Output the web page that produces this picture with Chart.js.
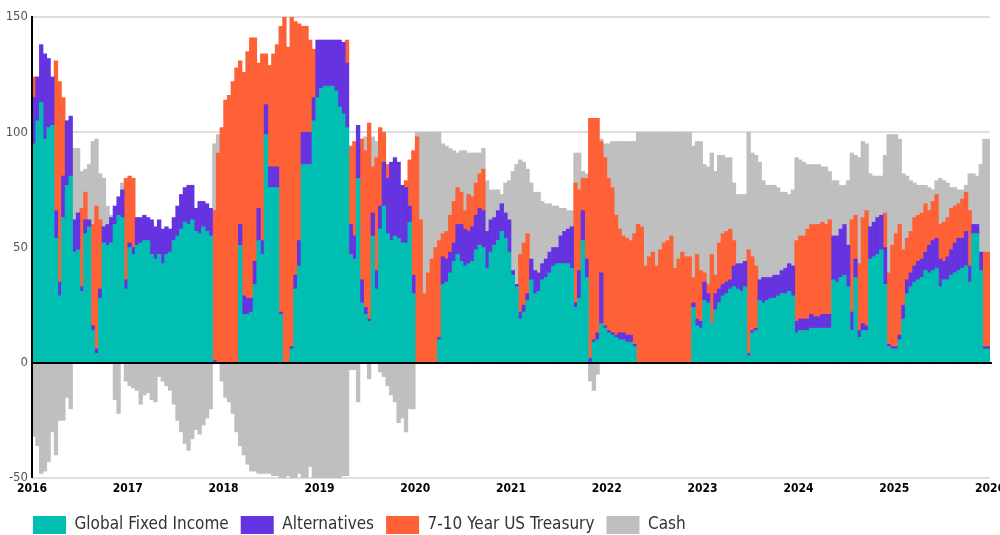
<!DOCTYPE html>
<html>
<head>
<meta charset="utf-8">
<script src="https://cdn.jsdelivr.net/npm/chart.js@4.4.1/dist/chart.umd.min.js"></script>
<style>
  html, body { margin: 0; padding: 0; background: #fff; }
  #wrap { width: 1000px; height: 535px; }
</style>
</head>
<body>
<div id="wrap"><canvas id="c" width="1000" height="535"></canvas></div>
<script>
// Allocation history, sampled every two weeks from Jan 2016 to Dec 2025 (26 periods per year).
const startYear = 2016;
const periodsPerYear = 26;
const yearTicks = [2016, 2017, 2018, 2019, 2020, 2021, 2022, 2023, 2024, 2025, 2026];
const seriesNames = ['Global Fixed Income', 'Alternatives', '7-10 Year US Treasury', 'Cash'];

const globalFixedIncome = [
  95,105,113,97,102,103,54,29,63,77,81,48,49,31,56,59,14,4,28,52,51,52,60,64,63,32,
  50,47,51,52,53,53,47,45,47,43,47,48,53,55,58,61,60,62,57,56,59,57,55,0,0,0,
  0,0,0,0,51,21,21,22,34,53,47,99,76,76,76,21,0,0,6,32,42,86,86,86,105,115,
  119,120,120,120,118,111,108,102,47,45,80,26,21,18,55,32,58,68,56,53,55,54,52,52,61,30,
  0,0,0,0,0,0,10,34,35,39,44,47,44,42,43,44,49,51,50,41,48,51,53,57,54,48,
  38,33,19,22,27,36,30,31,36,37,39,42,43,43,43,43,41,24,28,53,37,0,9,10,17,15,
  13,12,11,10,10,9,9,7,0,0,0,0,0,0,0,0,0,0,0,0,0,0,0,24,16,15,
  27,26,17,23,26,29,30,32,33,32,31,33,3,13,14,27,26,27,28,28,29,30,30,31,29,13,
  14,14,14,15,15,15,15,15,15,36,35,37,38,33,14,37,11,14,14,45,46,47,49,34,7,6,
  6,10,19,30,33,35,36,37,40,39,40,41,33,36,36,38,39,40,41,42,35,56,56,40,6,6
];

const alternatives = [
  20,19,25,37,30,21,12,6,18,28,26,14,16,2,6,3,2,2,4,7,9,11,8,8,12,4,
  2,3,12,11,11,10,15,14,15,15,12,10,10,13,15,15,17,15,10,14,11,12,12,1,0,0,
  0,0,0,0,9,8,7,6,10,14,6,13,9,9,9,1,0,0,1,6,11,14,14,14,10,25,
  21,20,20,20,22,29,31,28,13,10,23,10,3,1,10,8,10,19,24,34,34,33,25,24,7,8,
  0,0,0,0,0,0,1,12,10,9,8,13,16,16,14,15,15,16,16,16,14,12,13,12,11,14,
  2,1,3,3,3,9,10,8,7,8,9,8,7,12,14,15,18,2,12,13,8,2,1,3,22,1,
  1,1,1,3,3,3,3,1,0,0,0,0,0,0,0,0,0,0,0,0,0,0,0,2,3,3,
  8,4,0,7,6,5,5,4,9,11,12,11,1,1,1,9,11,10,9,10,9,10,11,12,13,5,
  5,5,5,6,5,5,6,6,6,19,20,21,22,18,8,8,3,3,2,14,15,16,15,16,1,1,
  1,2,6,6,6,7,8,8,8,12,13,13,12,8,10,11,13,14,13,15,7,4,4,8,1,1
];

const usTreasury710 = [
  9,0,0,0,0,0,65,87,34,0,0,0,0,34,12,0,44,62,30,0,0,0,0,0,0,44,
  29,30,0,0,0,0,0,0,0,0,0,0,0,0,0,0,0,0,0,0,0,0,0,65,91,102,
  114,116,122,128,71,97,107,113,97,63,81,22,44,49,53,124,150,137,143,110,94,46,46,40,21,0,
  0,0,0,0,0,0,0,10,34,41,0,61,68,85,20,49,34,13,6,0,0,0,0,3,20,54,
  98,62,30,39,45,50,42,10,12,16,18,16,14,8,16,13,14,15,18,0,0,0,0,0,0,0,
  0,0,25,27,26,0,0,0,0,0,0,0,0,0,0,0,0,52,35,14,35,104,96,93,57,73,
  66,63,52,45,42,42,41,48,60,59,42,46,48,42,49,52,53,55,41,45,48,46,46,11,28,22,
  4,4,30,8,20,22,22,22,11,0,0,0,45,32,27,0,0,0,0,0,0,0,0,0,0,35,
  36,36,39,39,40,40,40,39,41,0,0,0,0,0,40,19,29,46,50,0,0,0,0,15,31,44,
  49,48,24,18,18,21,20,20,21,15,17,19,15,17,17,18,16,15,17,17,24,0,0,0,41,41
];

const cash = [
  -32,-36,-48,-47,-43,-30,-40,-25,-25,-15,-20,31,28,16,10,24,36,29,20,21,8,1,-16,-22,3,-8,
  -10,-11,-12,-18,-14,-13,-16,-17,-6,-8,-10,-12,-18,-25,-30,-35,-38,-33,-29,-31,-27,-24,-20,29,8,-8,
  -15,-17,-22,-30,-36,-40,-44,-47,-47,-48,-48,-48,-48,-49,-49,-50,-50,-49,-50,-50,-48,-50,-50,-45,-50,-50,
  -50,-50,-50,-50,-50,-50,-49,-49,-3,-3,-17,0,6,-7,13,7,-4,-6,-10,-14,-17,-26,-24,-30,-20,-20,
  2,38,70,61,55,50,47,39,37,29,22,15,18,26,18,19,13,9,9,22,13,12,9,4,13,17,
  43,52,41,35,28,33,34,35,27,24,21,18,18,12,10,8,7,13,16,3,2,-8,-12,-5,1,6,
  15,20,32,38,41,42,43,40,40,41,58,54,52,58,51,48,47,45,59,55,52,54,54,57,49,56,
  47,51,44,45,38,34,32,31,25,30,30,29,51,45,48,51,42,40,40,39,38,34,33,30,33,36,
  33,32,28,26,26,26,24,25,21,24,24,19,17,28,29,26,46,33,29,23,20,18,17,25,60,48,
  43,37,33,27,22,15,13,12,8,10,5,6,20,18,15,9,8,6,4,3,16,22,21,38,49,49
];

const seriesColors = ['#00BFB2', '#6633E0', '#FF6136', '#BFBFBF'];
const fontFamily = "'Liberation Sans Narrow', 'Arial Narrow', 'DejaVu Sans Condensed', sans-serif";

// Period midpoints on a fractional-year axis
const periodPos = globalFixedIncome.map((_, i) => startYear + (i + 0.5) / periodsPerYear);
const toPoints = arr => arr.map((v, i) => ({ x: periodPos[i], y: v === 0 ? null : v }));

const seriesValues = [globalFixedIncome, alternatives, usTreasury710, cash];
const datasets = seriesValues.map((vals, k) => ({
  label: seriesNames[k],
  data: toPoints(vals),
  backgroundColor: seriesColors[k],
  borderWidth: 0,
  barPercentage: 1,
  categoryPercentage: 1
}));

// Black zero line and left axis line drawn over the bars
const axisLines = {
  id: 'axisLines',
  afterDatasetsDraw(chart) {
    const { ctx, chartArea, scales } = chart;
    const y0 = Math.round(scales.y.getPixelForValue(0));
    ctx.save();
    ctx.fillStyle = '#000';
    ctx.fillRect(chartArea.left, y0 - 1, chartArea.right - chartArea.left + 2, 2);
    ctx.fillRect(chartArea.left - 1, chartArea.top - 1, 2, chartArea.bottom - chartArea.top + 1);
    ctx.restore();
  }
};

// Legend row starts in line with the plot's left edge
const legendIndent = {
  id: 'legendIndent',
  afterLayout(chart) {
    if (chart.legend) {
      chart.legend.left += 21;
      chart.legend.right += 21;
    }
  }
};

new Chart(document.getElementById('c'), {
  type: 'bar',
  data: { datasets },
  options: {
    responsive: false,
    animation: false,
    devicePixelRatio: 1,
    layout: { padding: { top: 17, right: 10, bottom: -9, left: 0 } },
    plugins: {
      tooltip: { enabled: false },
      legend: {
        position: 'bottom',
        align: 'start',
        labels: {
          boxWidth: 33,
          boxHeight: 18,
          padding: 12,
          color: '#333',
          font: { family: fontFamily, size: 17 }
        }
      }
    },
    scales: {
      x: {
        type: 'linear',
        stacked: true,
        min: startYear,
        max: yearTicks[yearTicks.length - 1],
        offset: false,
        grid: { display: false, drawTicks: false },
        border: { display: false },
        afterBuildTicks: s => { s.ticks = yearTicks.map(v => ({ value: v })); },
        afterFit: s => { s.height = 26; s.paddingLeft = 0; s.paddingRight = 0; },
        ticks: {
          autoSkip: false,
          maxRotation: 0,
          padding: 4,
          color: '#000',
          font: { family: fontFamily, size: 12, weight: 'bold' },
          callback: v => String(v)
        }
      },
      y: {
        stacked: true,
        min: -50,
        max: 150,
        border: { display: false },
        grid: { color: '#dedede', lineWidth: 2, drawTicks: false },
        afterFit: s => { s.width = 32; s.paddingTop = 0; s.paddingBottom = 0; },
        ticks: {
          stepSize: 50,
          padding: 4,
          color: '#555',
          font: { family: fontFamily, size: 13 }
        }
      }
    }
  },
  plugins: [axisLines, legendIndent]
});
</script>
</body>
</html>
